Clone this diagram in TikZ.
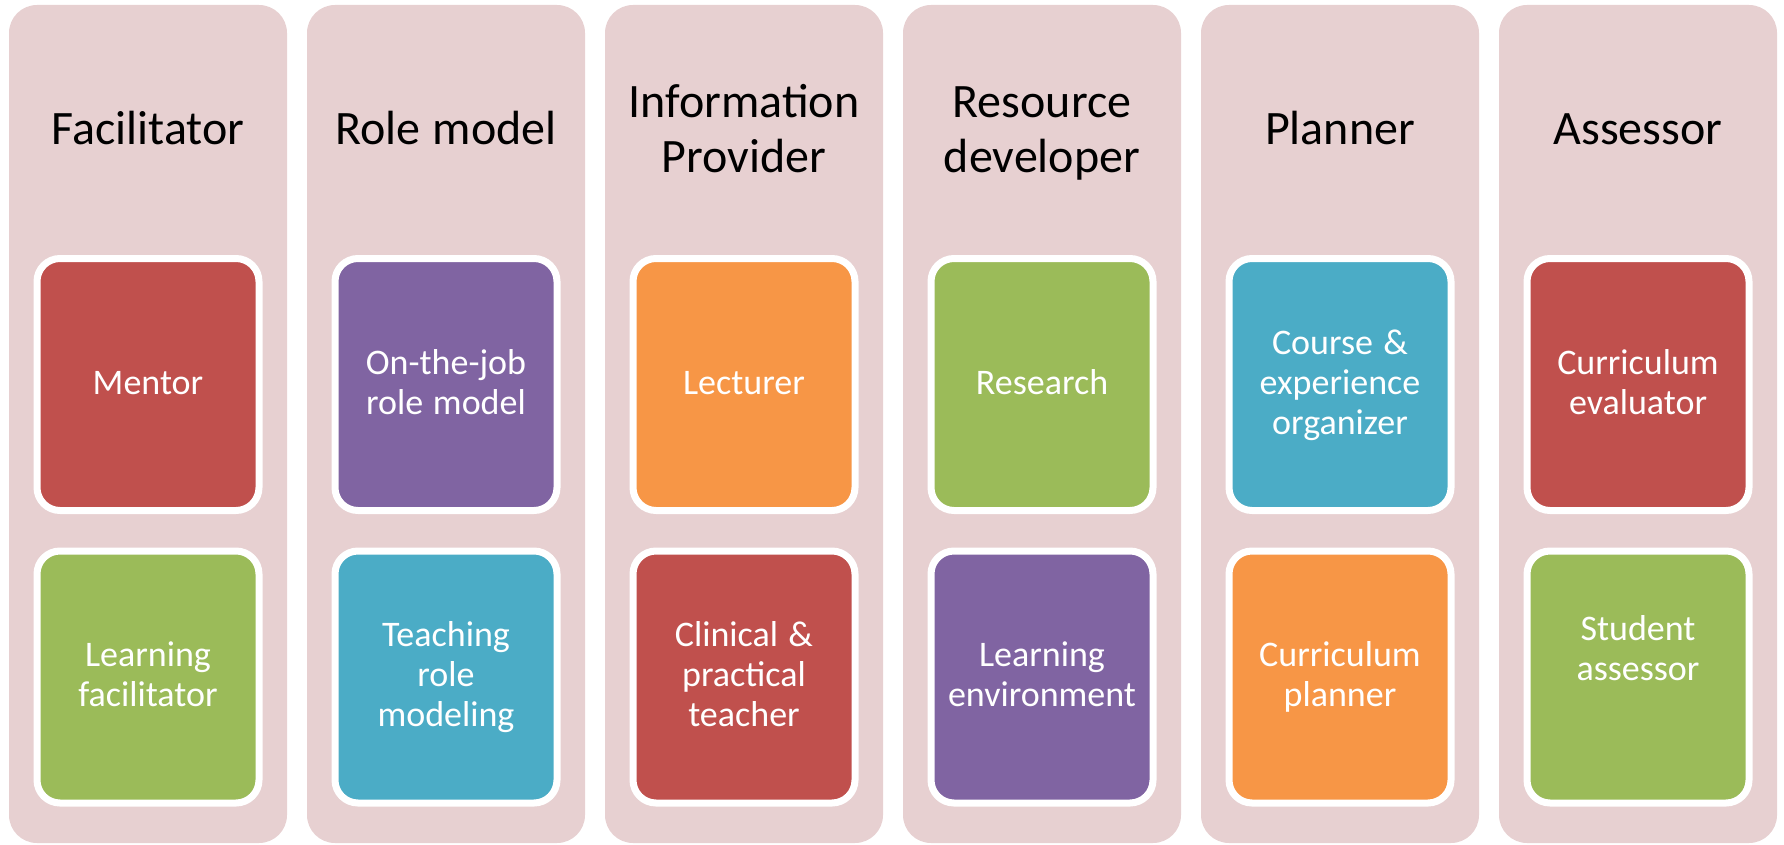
\documentclass[tikz,border=0pt]{standalone}
\usepackage{fontspec}
\setmainfont{Carlito}
\usepackage{tikz}

\definecolor{bgpink}{RGB}{231,208,209}
\definecolor{rolered}{HTML}{C0504D}
\definecolor{rolepurple}{HTML}{8064A2}
\definecolor{roleorange}{HTML}{F79646}
\definecolor{rolegreen}{HTML}{9BBB59}
\definecolor{roleblue}{HTML}{4BACC6}

% font's own word spaces; slightly taller strut on the first line of the boxes
\newcommand{\headstart}{\spaceskip=0pt\xspaceskip=0pt\strut}
\newcommand{\rolestart}{\spaceskip=0pt\xspaceskip=0pt\rule{0pt}{31pt}}

\begin{document}
\begin{tikzpicture}[x=1pt,y=-1pt,
	column/.style={fill=bgpink, rounded corners=28pt, inner sep=0pt,
		minimum width=278pt, minimum height=838pt},
	heading/.style={align=center, text=black, text width=262pt, inner sep=0pt,
		font=\fontsize{48}{55}\selectfont,
		execute at begin node=\headstart, execute at end node=\strut},
	role/.style={draw=white, line width=7pt, rounded corners=23pt,
		minimum width=222pt, minimum height=252pt, inner sep=0pt,
		align=center, text width=215pt, text=white,
		font=\fontsize{36}{40}\selectfont,
		execute at begin node=\rolestart, execute at end node=\strut}]
\useasboundingbox (0,0) rectangle (1784,845);

% columns
\node[column] (c1) at (148,424) {};
\node[column] (c2) at (446,424) {};
\node[column] (c3) at (744,424) {};
\node[column] (c4) at (1042,424) {};
\node[column] (c5) at (1340,424) {};
\node[column] (c6) at (1638,424) {};

% headings
\node[heading] (h1) at (148,134) {Facilitator};
\node[heading] (h2) at (446,134) {Role model};
\node[heading] (h3) at (744,134) {Information\\Provider};
\node[heading] (h4) at (1042,134) {Resource\\developer};
\node[heading] (h5) at (1340,134) {Planner};
\node[heading] (h6) at (1638,134) {Assessor};

% upper boxes
\node[role, fill=rolered] (a1) at (148,384.5) {Mentor};
\node[role, fill=rolepurple] (a2) at (446,384.5) {On-the-job\\role model};
\node[role, fill=roleorange] (a3) at (744,384.5) {Lecturer};
\node[role, fill=rolegreen] (a4) at (1042,384.5) {Research};
\node[role, fill=roleblue] (a5) at (1340,384.5) {Course \&\\experience\\organizer};
\node[role, fill=rolered] (a6) at (1638,384.5) {Curriculum\\evaluator};

% lower boxes (the last one keeps an empty line below its text)
\node[role, fill=rolegreen] (b1) at (148,677) {Learning\\facilitator};
\node[role, fill=roleblue] (b2) at (446,677) {Teaching\\role\\modeling};
\node[role, fill=rolered] (b3) at (744,677) {Clinical \&\\practical\\teacher};
\node[role, fill=rolepurple] (b4) at (1042,677) {Learning\\environment};
\node[role, fill=roleorange] (b5) at (1340,677) {Curriculum\\planner};
\node[role, fill=rolegreen] (b6) at (1638,677) {Student\\assessor\\[12pt]\mbox{}};
\end{tikzpicture}
\end{document}
